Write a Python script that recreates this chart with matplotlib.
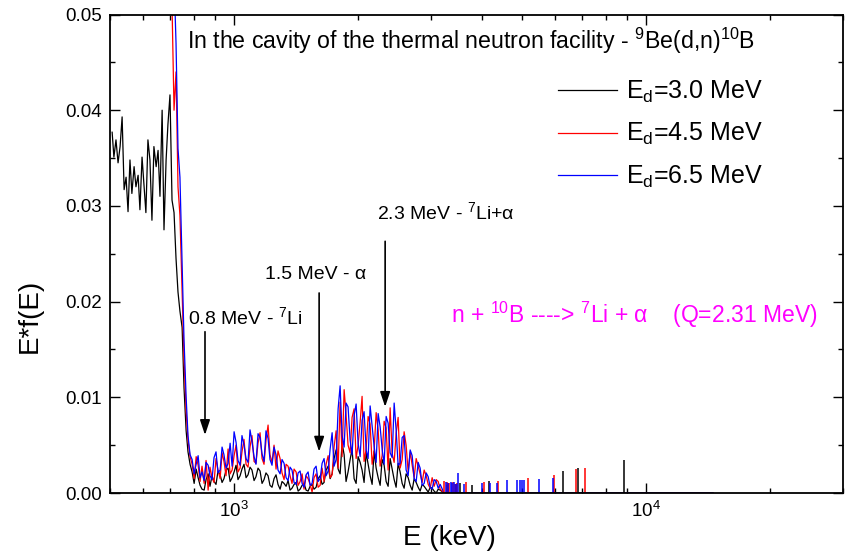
import numpy as np
import matplotlib.pyplot as plt
from matplotlib.ticker import MultipleLocator, NullFormatter, FormatStrFormatter

plt.rcParams['font.family'] = 'Liberation Sans'
plt.rcParams['mathtext.fontset'] = 'custom'
plt.rcParams['mathtext.rm'] = 'Liberation Sans'
plt.rcParams['mathtext.it'] = 'Liberation Sans:italic'
plt.rcParams['mathtext.bf'] = 'Liberation Sans:bold'

# energy grid (keV), shared by the three spectra
energy_kev = [
    506, 511, 517, 523, 529, 535, 541, 547, 553, 559,
    565, 572, 578, 585, 591, 598, 605, 611, 618, 625,
    632, 639, 647, 654, 661, 669, 676, 684, 691, 699,
    707, 715, 723, 731, 739, 748, 756, 765, 773,
    782, 791, 800, 809, 818, 827, 836, 846, 855, 865,
    874, 884, 894, 904, 914, 925, 935, 945, 956, 967,
    978, 989, 1000, 1011, 1022, 1034, 1045, 1057, 1069, 1081,
    1093, 1105, 1118, 1130, 1143, 1156, 1169, 1182, 1195, 1209,
    1222, 1236, 1250, 1264, 1278, 1293, 1307, 1322, 1337, 1352,
    1367, 1382, 1398, 1414, 1430, 1446, 1462, 1478, 1495, 1512,
    1529, 1546, 1563, 1581, 1599, 1617, 1635, 1653, 1672, 1691,
    1710, 1729, 1748, 1768, 1788, 1808, 1828, 1849, 1869, 1890,
    1912, 1933, 1955, 1977, 1999, 2022, 2044, 2067, 2091, 2114,
    2138, 2162, 2186, 2211, 2236, 2261, 2286, 2312, 2338, 2364,
    2391, 2418, 2445, 2472, 2500, 2528, 2557, 2585, 2614, 2644,
    2674, 2704, 2734, 2765, 2796, 2827, 2859, 2891, 2924, 2957,
    2990, 3023, 3057, 3092, 3127, 3162,
    3230, 14500,
]

# E*f(E) in units of 1e-3
ef_30 = [
    37.7, 35.1, 36.9, 34.5, 36.2, 39.3, 31.7, 33.0, 29.4, 34.8,
    31.3, 34.1, 32.0, 33.2, 29.6, 35.1, 32.0, 29.3, 36.9, 34.8,
    28.5, 36.2, 34.1, 35.8, 31.0, 40.0, 27.5, 34.8, 38.5, 41.6,
    30.6, 29.3, 24.5, 21.0, 19.0, 17.3, 11.0, 6.5, 4.3,
    3.0,
    2.2, 1.0, 2.5, 1.6, 0.8, 0.4, 0.3, 1.4, 2.0, 0.7,
    1.8, 1.2, 0.9, 2.3, 1.9, 1.1, 1.5, 2.4, 2.6, 1.2,
    1.6, 2.2, 2.9, 1.4, 1.8, 2.5, 3.0, 1.6, 1.9, 2.7,
    2.4, 1.3, 1.7, 2.6, 2.3, 1.0, 1.4, 2.1, 1.8, 0.8,
    0.6, 1.5, 1.9, 0.9, 0.4, 1.2, 1.0, 0.7, 1.3, 0.3,
    0.5, 0.9, 1.1, 0.2, 0.4, 0.8, 1.0, 0.3, 0.2, 0.7,
    0.9, 0.4, 0.6, 1.5, 1.8, 0.9, 1.1, 2.4, 2.8, 1.5,
    2.0, 3.6, 4.5, 2.5, 2.0, 5.2, 4.0, 1.2, 2.2, 3.5,
    4.6, 1.5, 1.0, 3.8, 3.2, 2.4, 1.1, 4.2, 3.0, 1.8,
    0.9, 4.4, 2.6, 1.6, 0.8, 3.5, 2.9, 1.2, 0.7, 3.6,
    2.5, 1.4, 0.6, 3.1, 2.2, 1.0, 0.5, 2.0, 1.6, 0.8,
    0.3, 1.5, 1.1, 0.6, 0.2, 0.9, 0.7, 0.4, 0.1, 0.6,
    0.5, 0.2, 0.0, 0.4, 0.3,
    0.0, 0.0,
]

# red / blue start off-scale (above 0.05) at 684 keV
ef_45 = [
    65, 60, 56, 51, 40, 44, 32, 29, 21, 14, 8.5, 5.5,
    3.8,
    3.0, 1.5, 3.8, 2.9, 1.2, 2.8, 1.0, 3.4, 0.3, 2.7,
    1.6, 1.1, 3.6, 2.4, 1.5, 4.2, 3.3, 1.8, 4.6, 2.0,
    2.4, 3.9, 5.0, 2.2, 2.6, 4.3, 5.6, 3.0, 2.7, 4.8,
    6.0, 3.3, 3.1, 5.2, 6.3, 3.6, 3.0, 5.5, 7.1, 4.0,
    3.2, 5.0, 2.5, 4.4, 3.6, 2.1, 1.4, 3.0, 2.8, 1.8,
    1.0, 2.5, 2.2, 0.8, 1.2, 2.0, 0.4, 1.8, 1.5, 0.9,
    0.1, 1.6, 2.0, 0.6, 0.8, 2.6, 1.2, 3.0, 3.9, 1.6,
    1.9, 4.8, 6.5, 2.6, 9.5, 3.8, 10.8, 8.2, 5.0, 4.2,
    7.9, 8.8, 3.6, 5.0, 7.4, 10.1, 3.3, 4.6, 8.0, 7.2,
    3.0, 4.4, 8.4, 6.6, 2.8, 3.9, 7.5, 6.8, 2.4, 8.9,
    4.1, 3.2, 6.2, 7.9, 2.6, 3.5, 6.4, 5.0, 2.2, 4.3,
    2.9, 1.6, 3.6, 2.8, 2.0, 1.1, 2.4, 1.8, 0.9, 0.5,
    1.6, 0.7, 1.4, 1.2, 0.4,
    0.0, 0.0,
]

ef_65 = [
    70, 64, 60, 58, 54, 47, 36, 33, 24, 16, 10, 6.0,
    4.0,
    3.5, 2.0, 3.0, 3.9, 1.6, 2.2, 1.3, 3.2, 2.9, 1.8,
    1.4, 3.7, 4.3, 2.1, 2.4, 4.8, 4.0, 2.6, 3.1, 5.2,
    2.8, 6.4, 5.3, 3.4, 2.9, 6.0, 5.0, 3.6, 3.2, 6.6,
    5.4, 3.8, 3.0, 6.2, 5.8, 4.1, 3.3, 6.5, 5.7, 3.5,
    2.9, 4.8, 4.0, 2.4, 2.0, 3.5, 3.1, 1.6, 1.3, 2.7,
    2.4, 1.1, 0.9, 2.1, 2.3, 1.0, 0.6, 1.9, 2.2, 0.8,
    1.0, 2.5, 2.8, 1.2, 1.5, 3.1, 3.6, 1.8, 2.3, 4.6,
    6.3, 2.8, 3.5, 8.8, 11.2, 6.0, 4.8, 9.4, 9.0, 5.5,
    4.0, 8.1, 9.3, 5.2, 3.8, 7.6, 8.5, 4.5, 3.6, 9.1,
    7.0, 4.9, 3.2, 8.3, 6.9, 4.6, 3.0, 8.0, 7.3, 4.2,
    3.7, 9.4, 6.6, 2.9, 3.1, 5.8, 6.0, 2.4, 1.8, 4.5,
    3.9, 1.5, 1.2, 3.2, 2.6, 0.8, 1.0, 2.1, 1.7, 0.6,
    0.4, 1.4, 1.2, 0.5, 0.9,
    0.0, 0.0,
]

# isolated channels in the high-energy tail (keV, 1e-3)
tail_e_30 = [3288, 3310, 3450, 3536, 3781, 4160, 6290, 6838, 8845]
tail_h_30 = [0.8, 1.0, 0.9, 1.0, 0.8, 1.3, 2.3, 2.6, 3.4]
tail_e_45 = [3234, 3280, 3325, 3400, 3439, 3470, 3656, 4045, 4374, 5168, 5979, 6762, 7110]
tail_h_45 = [1.3, 1.1, 1.0, 1.2, 0.9, 1.0, 1.1, 1.2, 1.3, 1.6, 1.9, 2.5, 2.6]
tail_e_65 = [3270, 3300, 3350, 3381, 3420, 3460, 3497, 3615, 4000, 4183, 4349,
             4597, 4862, 4944, 5000, 5056, 5499, 5945]
tail_h_65 = [1.2, 1.0, 1.1, 1.0, 1.2, 0.9, 2.1, 0.9, 1.0, 1.0, 1.0,
             1.4, 1.4, 1.4, 1.4, 1.4, 1.5, 1.6]

labels = ['E$_\\mathrm{d}$=3.0 MeV', 'E$_\\mathrm{d}$=4.5 MeV', 'E$_\\mathrm{d}$=6.5 MeV']

# reaction lines marked with arrows
peak_e = [850, 1608, 2325]
peak_text = ['0.8 MeV - $^{7}$Li', '1.5 MeV - α', '2.3 MeV - $^{7}$Li+α']

fig = plt.figure(figsize=(8.47, 5.59), dpi=100)
ax = fig.add_axes([110/847, 66/559, 733/847, 478.5/559])

e = np.array(energy_kev)
ax.plot(e, np.array(ef_30)*1e-3, color='black', lw=0.9, label=labels[0])
ax.plot(e[-len(ef_45):], np.array(ef_45)*1e-3, color='red', lw=0.9, label=labels[1])
ax.plot(e[-len(ef_65):], np.array(ef_65)*1e-3, color='blue', lw=0.9, label=labels[2])
ax.vlines(tail_e_30, 0, np.array(tail_h_30)*1e-3, color='black', lw=1.1)
ax.vlines(tail_e_45, 0, np.array(tail_h_45)*1e-3, color='red', lw=1.1)
ax.vlines(tail_e_65, 0, np.array(tail_h_65)*1e-3, color='blue', lw=1.1)

ax.set_xscale('log')
ax.set_xlim(500, 30000)
ax.set_ylim(0, 0.05)
ax.yaxis.set_major_locator(MultipleLocator(0.01))
ax.yaxis.set_minor_locator(MultipleLocator(0.005))
ax.yaxis.set_major_formatter(FormatStrFormatter('%.2f'))
ax.xaxis.set_minor_formatter(NullFormatter())
ax.tick_params(which='both', direction='in', top=True, right=True, width=1.0,
               labelsize=13.5, pad=6)
ax.tick_params(which='major', length=7.5)
ax.tick_params(which='minor', length=3.8)
for s in ax.spines.values():
    s.set_linewidth(1.3)

ax.set_xlabel('E (keV)', fontsize=20)
ax.set_ylabel('E*f(E)', fontsize=20)
ax.xaxis.set_label_coords(0.4625, -0.067)
ax.yaxis.set_label_coords(-0.0914, 0.37)

ax.legend(loc='upper left', bbox_to_anchor=(0.611, 0.865), frameon=False, fontsize=18,
          handlelength=2.36, handletextpad=0.36, labelspacing=0.64,
          borderpad=0, borderaxespad=0)

ax.text(0.105, 0.928, 'In the cavity of the thermal neutron facility - $^{9}$Be(d,n)$^{10}$B',
        transform=ax.transAxes, fontsize=16.7, va='baseline')

# arrows: (top, tip) and label positions
arrow_y = [(0.01685, 0.00606), (0.0209, 0.00432), (0.0263, 0.0090)]
text_pos = [(773, 0.01766), (1189, 0.02233), (2223, 0.0286)]
for x, (y0, y1), (tx, ty), t in zip(peak_e, arrow_y, text_pos, peak_text):
    ax.annotate('', xy=(x, y1), xytext=(x, y0),
                arrowprops=dict(arrowstyle='-|>,head_length=0.6,head_width=0.2',
                                color='black', lw=1.2, mutation_scale=15,
                                shrinkA=0, shrinkB=0))
    ax.text(tx, ty, t, fontsize=14, va='baseline')

ax.text(0.4652, 0.3559, 'n + $^{10}$B ----> $^{7}$Li + α    (Q=2.31 MeV)',
        transform=ax.transAxes, fontsize=16.5, color='#FF00FF', va='baseline')

fig.savefig('out.png', dpi=100)
